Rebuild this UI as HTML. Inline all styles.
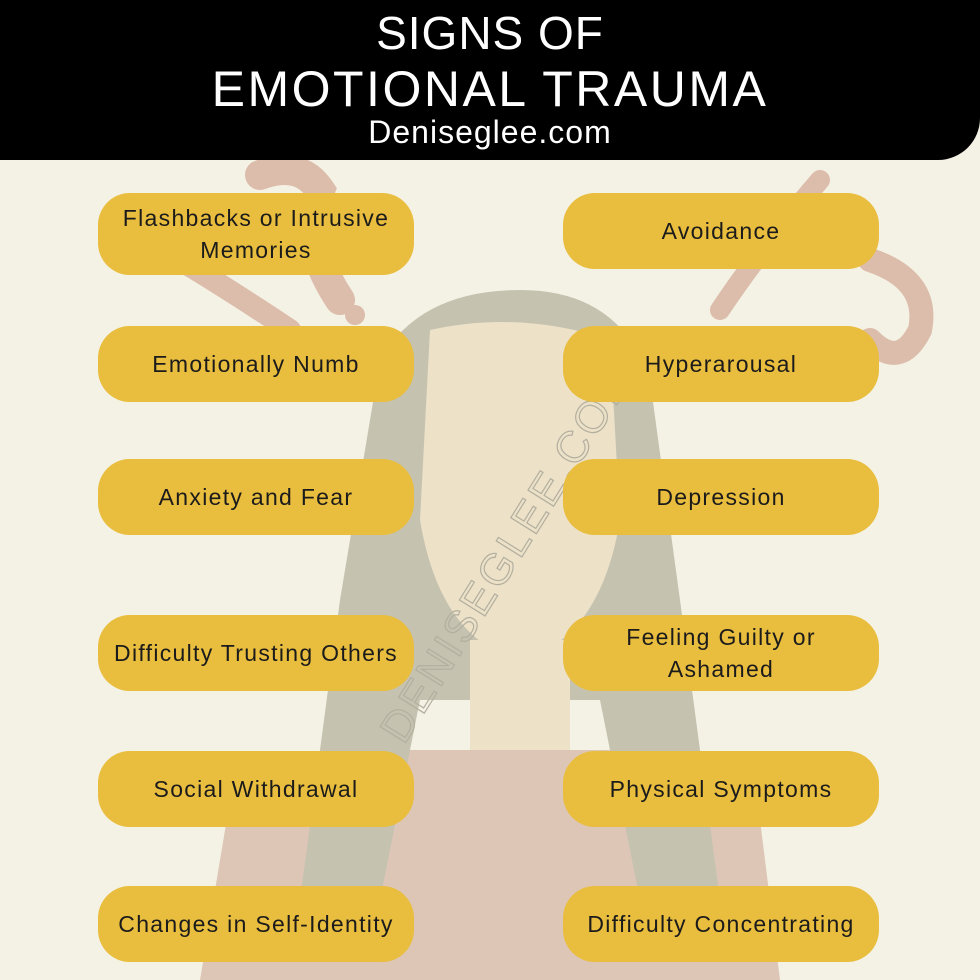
<!DOCTYPE html>
<html><head><meta charset="utf-8"><style>
body{margin:0;width:980px;height:980px;overflow:hidden;background:#f4f2e4;font-family:"Liberation Sans",sans-serif;position:relative}
.hdr{position:absolute;left:0;top:0;width:980px;height:160px;background:#000;border-bottom-right-radius:42px;color:#fff;text-align:center}
.pill{position:absolute;width:316px;height:76px;background:#e9bd3e;border-radius:32px;display:flex;align-items:center;justify-content:center;text-align:center;font-size:23px;color:#1b1b1b;line-height:32px;letter-spacing:1.3px}
.l{left:98px}.r{left:563px}
</style></head><body>
<svg width="980" height="980" style="position:absolute;left:0;top:0;opacity:0.85">
<path d="M260 175 Q300 160 320 190 Q300 240 340 300" stroke="#d8b3a2" stroke-width="30" fill="none" stroke-linecap="round"/>
<path d="M180 260 Q230 290 290 330" stroke="#d8b3a2" stroke-width="22" fill="none" stroke-linecap="round"/>
<circle cx="355" cy="315" r="10" fill="#d8b3a2"/>
<path d="M820 180 Q760 250 720 310" stroke="#d8b3a2" stroke-width="20" fill="none" stroke-linecap="round"/>
<path d="M870 260 Q930 280 920 330 Q900 370 870 340" stroke="#d8b3a2" stroke-width="24" fill="none" stroke-linecap="round"/>
<path d="M230 800 Q250 760 340 750 L640 750 Q720 760 760 820 L780 980 L200 980 Z" fill="#d9bfae"/>
<path d="M380 360 Q420 290 520 290 Q620 290 650 380 L680 600 L720 900 L640 900 L600 700 L420 700 L380 900 L300 900 L340 600 Z" fill="#bdbaa8"/>
<path d="M430 330 Q520 310 610 340 L620 520 Q600 640 520 660 Q440 640 420 520 Z" fill="#ecdfc4"/>
<rect x="470" y="640" width="100" height="110" fill="#ecdfc4"/>
<text x="520" y="560" transform="rotate(-58 520 560)" text-anchor="middle" font-family="Liberation Sans" font-size="44" fill="none" stroke="#a8a494" stroke-width="1.2" letter-spacing="3">DENISEGLEE.COM</text>
</svg>
<div class="hdr">
<div style="position:absolute;top:6px;width:100%;font-size:46px;letter-spacing:1px">SIGNS OF</div>
<div style="position:absolute;top:60px;width:100%;font-size:50px;letter-spacing:2.5px">EMOTIONAL TRAUMA</div>
<div style="position:absolute;top:114px;width:100%;font-size:32px;letter-spacing:1px">Deniseglee.com</div>
</div>
<div class="pill l" style="top:193px;height:82px">Flashbacks or Intrusive<br>Memories</div>
<div class="pill r" style="top:193px">Avoidance</div>
<div class="pill l" style="top:326px">Emotionally Numb</div>
<div class="pill r" style="top:326px">Hyperarousal</div>
<div class="pill l" style="top:459px">Anxiety and Fear</div>
<div class="pill r" style="top:459px">Depression</div>
<div class="pill l" style="top:615px">Difficulty Trusting Others</div>
<div class="pill r" style="top:615px">Feeling Guilty or<br>Ashamed</div>
<div class="pill l" style="top:751px">Social Withdrawal</div>
<div class="pill r" style="top:751px">Physical Symptoms</div>
<div class="pill l" style="top:886px">Changes in Self-Identity</div>
<div class="pill r" style="top:886px">Difficulty Concentrating</div>
</body></html>
